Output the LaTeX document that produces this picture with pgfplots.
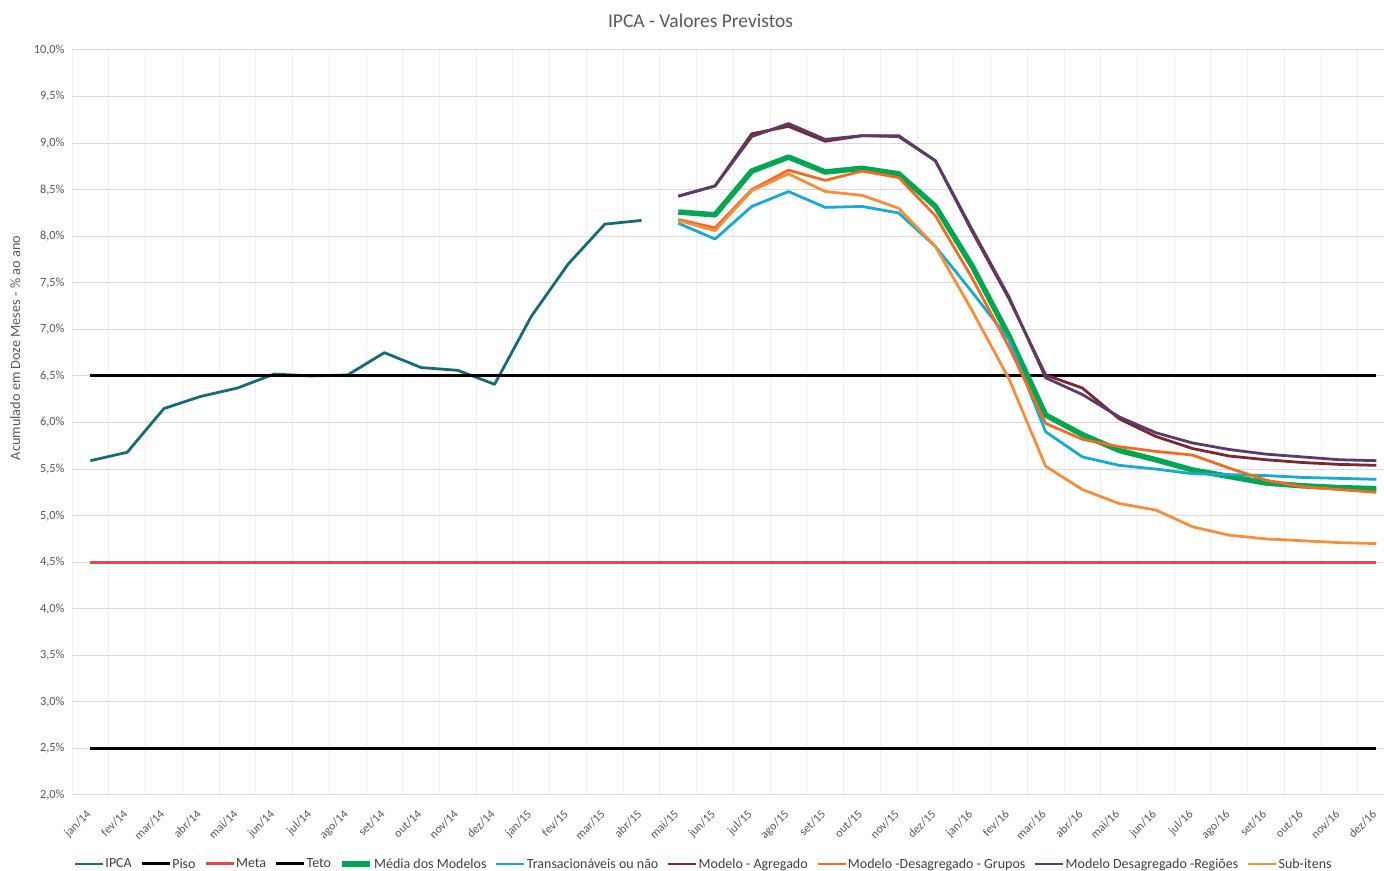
\documentclass[border=0pt]{standalone}
\usepackage{fontspec}
\setmainfont{Carlito}
\usepackage{pgfplots}
\pgfplotsset{compat=1.18}
\definecolor{ipca}{HTML}{176B79}
\definecolor{meta}{HTML}{E04A4A}
\definecolor{media}{HTML}{00A651}
\definecolor{trans}{HTML}{18ABCF}
\definecolor{agreg}{HTML}{7B2630}
\definecolor{grupos}{HTML}{F26B22}
\definecolor{regioes}{HTML}{5A3C6B}
\definecolor{subitens}{HTML}{F78E3D}
\definecolor{tickgray}{HTML}{595959}
\definecolor{gridmaj}{HTML}{D9D9D9}
\definecolor{gridmin}{HTML}{EFEFEF}
\begin{document}
\begin{tikzpicture}
\useasboundingbox (0bp,0bp) rectangle (1384bp,871bp);
\begin{axis}[
  at={(72.1bp,76bp)}, anchor=south west,
  scale only axis, width=1311.9bp, height=745bp,
  xmin=-0.5, xmax=35.21, ymin=2, ymax=10,
  enlargelimits=false,
  axis line style={draw=none},
  major tick length=0pt, minor tick length=0pt,
  xtick={0,...,35},
  xticklabels={jan/14,fev/14,mar/14,abr/14,mai/14,jun/14,jul/14,ago/14,set/14,out/14,nov/14,dez/14,
               jan/15,fev/15,mar/15,abr/15,mai/15,jun/15,jul/15,ago/15,set/15,out/15,nov/15,dez/15,
               jan/16,fev/16,mar/16,abr/16,mai/16,jun/16,jul/16,ago/16,set/16,out/16,nov/16,dez/16},
  minor xtick={-0.5,0.5,...,34.5},
  xminorgrids=true, xmajorgrids=false,
  minor x grid style={gridmin, line width=1bp},
  ytick={2,2.5,3,3.5,4,4.5,5,5.5,6,6.5,7,7.5,8,8.5,9,9.5,10},
  yticklabels={{2,0\%},{2,5\%},{3,0\%},{3,5\%},{4,0\%},{4,5\%},{5,0\%},{5,5\%},{6,0\%},{6,5\%},{7,0\%},{7,5\%},{8,0\%},{8,5\%},{9,0\%},{9,5\%},{10,0\%}},
  ymajorgrids=true,
  major y grid style={gridmaj, line width=1bp},
  yticklabel style={font=\fontsize{12.4bp}{14bp}\selectfont, text=tickgray, xshift=-4bp},
  xticklabel style={rotate=45, anchor=north east, font=\fontsize{12bp}{14bp}\selectfont, text=tickgray, xshift=-9.8bp, yshift=-2.8bp},
  title={IPCA - Valores Previstos},
  title style={at={(axis description cs:0.479,1)}, anchor=center, yshift=23bp, font=\fontsize{19.5bp}{22bp}\selectfont, text=tickgray},
  ylabel={Acumulado em Doze Meses - \% ao ano},
  ylabel style={at={(axis description cs:-0.0434,0.6)}, anchor=center, font=\fontsize{14.3bp}{16bp}\selectfont, text=tickgray},
  legend style={at={(axis description cs:0.481,-0.0926)}, anchor=center, draw=none, fill=none,
     inner sep=0pt, nodes={inner sep=1bp},
     font=\fontsize{14bp}{16bp}\selectfont, text=black!75,
     /tikz/every even column/.append style={column sep=7.5bp}},
  legend columns=-1,
  legend image code/.code={\draw[#1] (0bp,0bp) -- (28bp,0bp);},
  every axis plot/.append style={line join=round},
]
\addplot[ipca, line width=2.8bp] coordinates {
(0,5.59)(1,5.68)(2,6.15)(3,6.28)(4,6.37)(5,6.52)(6,6.50)(7,6.51)(8,6.75)(9,6.59)(10,6.56)(11,6.41)
(12,7.14)(13,7.70)(14,8.13)(15,8.17)};
\addlegendentry{IPCA}
\addplot[black, line width=3bp] coordinates {(0,2.5)(35,2.5)};
\addlegendentry{Piso}
\addplot[meta, line width=3bp] coordinates {(0,4.5)(35,4.5)};
\addlegendentry{Meta}
\addplot[black, line width=3bp] coordinates {(0,6.5)(35,6.5)};
\addlegendentry{Teto}
\addplot[media, line width=5.5bp] coordinates {
(16,8.26)(17,8.23)(18,8.70)(19,8.85)(20,8.69)(21,8.73)(22,8.67)(23,8.32)(24,7.68)(25,6.93)
(26,6.08)(27,5.87)(28,5.70)(29,5.60)(30,5.49)(31,5.42)(32,5.35)(33,5.32)(34,5.30)(35,5.29)};
\addlegendentry{Média dos Modelos}
\addplot[trans, line width=2.8bp] coordinates {
(16,8.14)(17,7.97)(18,8.32)(19,8.48)(20,8.31)(21,8.32)(22,8.25)(23,7.89)(24,7.40)(25,6.89)
(26,5.90)(27,5.63)(28,5.54)(29,5.50)(30,5.45)(31,5.44)(32,5.43)(33,5.41)(34,5.40)(35,5.39)};
\addlegendentry{Transacionáveis ou não}
\addplot[agreg, line width=2.8bp] coordinates {
(16,8.43)(17,8.54)(18,9.10)(19,9.18)(20,9.02)(21,9.08)(22,9.08)(23,8.81)(24,8.05)(25,7.33)
(26,6.51)(27,6.37)(28,6.04)(29,5.85)(30,5.72)(31,5.64)(32,5.60)(33,5.57)(34,5.55)(35,5.54)};
\addlegendentry{Modelo - Agregado}
\addplot[grupos, line width=2.8bp] coordinates {
(16,8.18)(17,8.09)(18,8.50)(19,8.71)(20,8.60)(21,8.70)(22,8.63)(23,8.22)(24,7.55)(25,6.81)
(26,5.99)(27,5.82)(28,5.74)(29,5.69)(30,5.65)(31,5.51)(32,5.38)(33,5.31)(34,5.28)(35,5.25)};
\addlegendentry{Modelo -Desagregado - Grupos}
\addplot[regioes, line width=2.8bp] coordinates {
(16,8.43)(17,8.54)(18,9.07)(19,9.21)(20,9.04)(21,9.08)(22,9.07)(23,8.81)(24,8.07)(25,7.35)
(26,6.48)(27,6.30)(28,6.06)(29,5.89)(30,5.78)(31,5.71)(32,5.66)(33,5.63)(34,5.60)(35,5.59)};
\addlegendentry{Modelo Desagregado -Regiões}
\addplot[subitens, line width=2.8bp] coordinates {
(16,8.17)(17,8.06)(18,8.49)(19,8.67)(20,8.48)(21,8.44)(22,8.30)(23,7.89)(24,7.20)(25,6.47)
(26,5.53)(27,5.28)(28,5.13)(29,5.06)(30,4.88)(31,4.79)(32,4.75)(33,4.73)(34,4.71)(35,4.70)};
\addlegendentry{Sub-itens}
\end{axis}
\end{tikzpicture}
\end{document}
